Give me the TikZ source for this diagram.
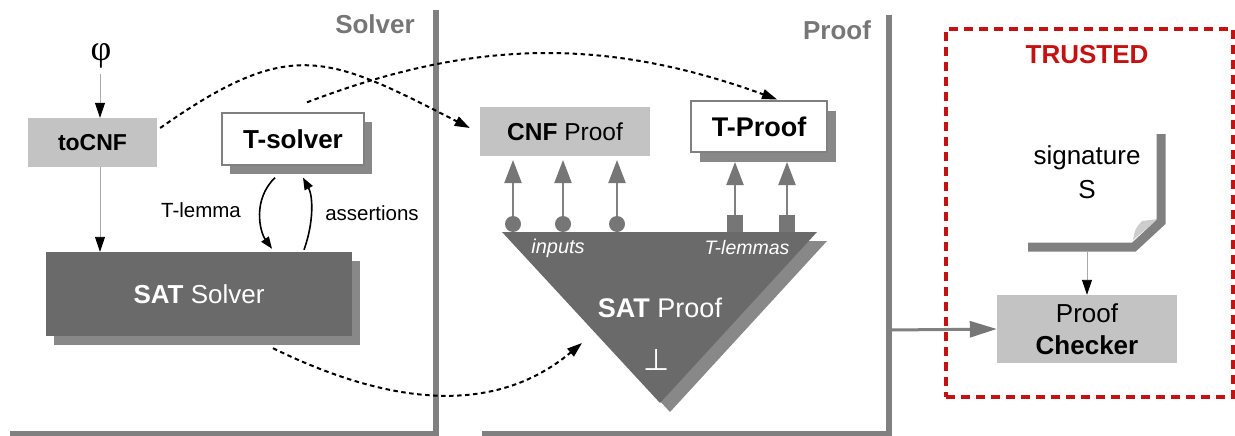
\documentclass[tikz,border=0pt]{standalone}
\usepackage{fontspec}
\setmainfont{Liberation Sans}
\newfontfamily\phifont{Liberation Serif}
\newfontfamily\symfont{DejaVu Sans}
\usetikzlibrary{arrows.meta,calc}
\newcommand\fsz[2]{\fontsize{#1}{#2}\selectfont}
\definecolor{lightbox}{RGB}{195,195,195}
\definecolor{darkfill}{RGB}{106,106,106}
\definecolor{shadowc}{RGB}{136,136,136}
\definecolor{linegray}{RGB}{128,128,128}
\definecolor{headgray}{RGB}{118,118,118}
\definecolor{thingray}{RGB}{170,170,170}
\definecolor{trustred}{RGB}{196,18,18}
\definecolor{curlgray}{RGB}{205,205,205}
\begin{document}
\begin{tikzpicture}[x=1pt,y=-1pt,
  lightbox/.style={fill=lightbox,inner sep=0pt},
  shadowbox/.style={fill=shadowc,inner sep=0pt},
  whitebox/.style={fill=white,draw=linegray,line width=1.3pt,inner sep=0pt},
  darkbox/.style={fill=darkfill,inner sep=0pt,text=white},
  heading/.style={text=headgray,font=\fsz{26}{30}\bfseries},
  thinarrow/.style={draw=thingray,line width=0.9pt,-{Triangle[length=15pt,width=10pt,black]}},
  curvearrow/.style={draw=black,line width=1.6pt,-{Triangle[length=12pt,width=9pt]}},
  dashcurve/.style={draw=black,line width=2pt,dash pattern=on 4.5pt off 3.5pt,-{Triangle[length=15pt,width=10pt]}},
  grayarrow/.style={draw=linegray,line width=2.2pt,-{Triangle[length=23pt,width=17pt,headgray]}},
  divider/.style={draw=linegray,line width=6pt,line join=miter}]
\useasboundingbox (0,0) rectangle (1235,436);

% section frames
\draw[divider] (10,434) -- (435.5,434) -- (435.5,10);
\draw[divider] (482,434) -- (889,434) -- (889,15);
\node[heading] (solverlbl) at (375,24) {Solver};
\node[heading] (prooflbl) at (837,30) {Proof};

% solver side
\node[font=\phifont\fsz{36}{40}] (phi) at (101,56) {φ};
\node[lightbox,minimum width=129pt,minimum height=49pt,font=\fsz{23}{26}\bfseries] (tocnf) at (92.5,142.5) {toCNF};
\node[shadowbox,minimum width=142pt,minimum height=52pt] (tsolversh) at (301,148) {};
\node[whitebox,minimum width=142pt,minimum height=52pt,font=\fsz{26}{30}\bfseries] (tsolver) at (293,139) {T-solver};
\node[shadowbox,minimum width=306pt,minimum height=84pt] (satsh) at (207,303) {};
\node[darkbox,minimum width=306pt,minimum height=84pt,font=\fsz{26}{30}] (satsolver) at (199,294) {\textbf{SAT} Solver};

\coordinate (phifoot) at (100,74);
\draw[thinarrow] (phifoot) -- (phifoot |- tocnf.north);
\draw[thinarrow] (tocnf.south -| phifoot) -- (phifoot |- satsolver.north);

\draw[curvearrow] ([xshift=-18pt,yshift=-12pt]tsolver.south)
  .. controls (252,200) and (260,232) .. ([xshift=73pt,yshift=3pt]satsolver.north);
\draw[curvearrow] ([xshift=105pt,yshift=2pt]satsolver.north)
  .. controls (314,222) and (313,196) .. ([xshift=10pt,yshift=-12pt]tsolver.south);
\node[font=\fsz{20.5}{24}] (tlemmalbl) at (201,210) {T-lemma};
\node[font=\fsz{20.5}{24}] (assertlbl) at (372,213) {assertions};

% proof side
\node[lightbox,minimum width=170pt,minimum height=49pt,font=\fsz{24.5}{28}] (cnfproof) at (565,131.5) {\textbf{CNF} Proof};
\node[shadowbox,minimum width=136pt,minimum height=51pt] (tproofsh) at (768,136.5) {};
\node[whitebox,minimum width=136pt,minimum height=51pt,font=\fsz{27}{30}\bfseries] (tproof) at (759,126.5) {T-Proof};

\coordinate (tl) at (502,232);
\coordinate (tr) at (817,232);
\coordinate (tb) at (660,403);
\fill[shadowc] ($(tl)+(10,9)$) -- ($(tr)+(10,9)$) -- ($(tb)+(10,9)$) -- cycle;
\fill[darkfill] (tl) -- (tr) -- (tb) -- cycle;
\coordinate (satin) at (582,343);

\node[text=white,font=\fsz{20}{24}\itshape] (inputslbl) at (558,248) {inputs};
\node[text=white,font=\fsz{19.5}{24}\itshape] (tlemmaslbl) at (747,248) {T-lemmas};
\node[text=white,font=\fsz{27}{30}] (satprooflbl) at (660,308) {\textbf{SAT} Proof};
\node[text=white,font=\symfont\fsz{30}{32}] (bottom) at (657,360) {⊥};

\foreach \x/\n in {513/in1,563/in2,617/in3}{
  \draw[grayarrow,shorten >=4pt] (\x,224) -- (\x,156);
  \node[circle,fill=headgray,minimum size=16pt,inner sep=0pt] (\n) at (\x,224) {};
}
\foreach \x/\n in {735/tl1,787/tl2}{
  \draw[grayarrow] (\x,224) -- (\x,162);
  \node[fill=headgray,minimum width=16pt,minimum height=17pt,inner sep=0pt] (\n) at (\x,223.5) {};
}

% certificates handed from solver to proof
\draw[dashcurve] ([xshift=3pt,yshift=14.5pt]tocnf.east)
  .. controls (291,36) and (327,55) .. ([xshift=-10pt,yshift=3.5pt]cnfproof.west);
\draw[dashcurve] ([xshift=14pt,yshift=10pt]tsolver.north)
  .. controls (475,38) and (608,38) .. ([xshift=18pt,yshift=1pt]tproof.north);
\draw[dashcurve] ([xshift=74pt,yshift=-12pt]satsolver.south)
  .. controls (381,401) and (490,420) .. (satin);

% trusted checker
\node[draw=trustred,line width=3.5pt,dash pattern=on 9pt off 6pt,minimum width=287pt,minimum height=368pt,inner sep=0pt] (trusted) at (1089.5,213) {};
\node[text=trustred,font=\fsz{26}{30}\bfseries] (trustedlbl) at (1087,55) {TRUSTED};
\node[font=\fsz{26}{34},align=center] (sig) at (1087,172) {signature\\S};
\fill[curlgray] (1133,240) .. controls (1135,229) .. (1142,221) -- (1158,219) -- cycle;
\draw[linegray,line width=9pt,line join=miter] (1161,134) -- (1161,222) -- (1134,247) -- (1028,247);
\coordinate (sigbase) at (1087,251);
\node[lightbox,minimum width=180pt,minimum height=68pt,align=center,font=\fsz{26}{32}] (checker) at (1087,329) {Proof\\\textbf{Checker}};
\draw[thinarrow] (sigbase) -- (checker.north);
\coordinate (proofout) at (892,330);
\draw[draw=linegray,line width=3pt,-{Triangle[length=27pt,width=16pt,headgray]}] (proofout) -- (checker.west);
\end{tikzpicture}
\end{document}
